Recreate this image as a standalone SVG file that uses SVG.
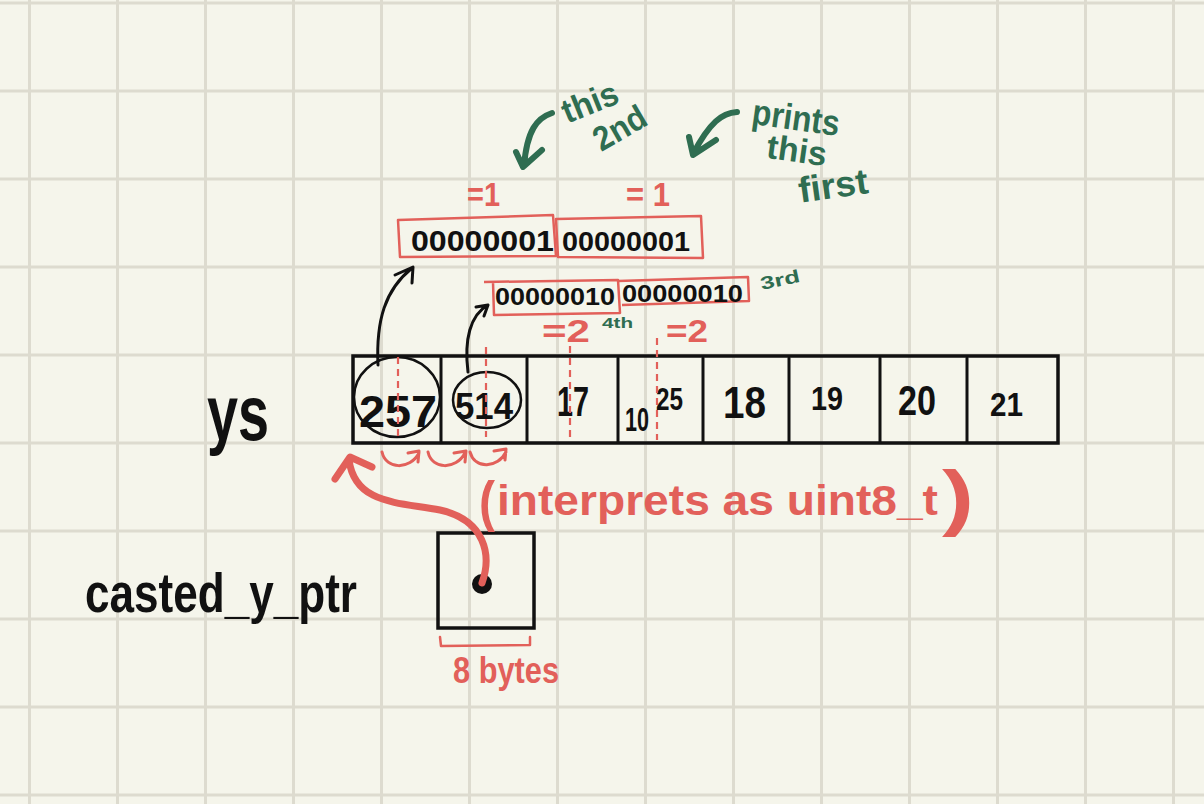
<svg xmlns="http://www.w3.org/2000/svg" width="1204" height="804" viewBox="0 0 1204 804">
<defs>
<style>
.grid{stroke:#dddbcf;stroke-width:3;fill:none}
.blk{font-family:"Liberation Sans",Arial,sans-serif;font-weight:bold;fill:#111}
.red{font-family:"Liberation Sans",Arial,sans-serif;font-weight:bold;fill:#e2605a}
.grn{font-family:"Liberation Sans",Arial,sans-serif;font-weight:bold;fill:#2f6d51}
.rbox{fill:none;stroke:#e2605a;stroke-width:2.5;stroke-linejoin:round}
.rline{fill:none;stroke:#e2605a;stroke-linecap:round;stroke-linejoin:round}
.gline{fill:none;stroke:#2f6d51;stroke-width:6;stroke-linecap:round;stroke-linejoin:round}
.bline{fill:none;stroke:#111;stroke-linecap:round;stroke-linejoin:round}
.dash{stroke:#e2605a;stroke-width:2.2;stroke-dasharray:7 5;fill:none}
</style>
</defs>
<rect width="1204" height="804" fill="#f5f5eb"/>
<path class="grid" d="M29.5 0V804M117.5 0V804M205.5 0V804M293.5 0V804M381.5 0V804M469.5 0V804M557.5 0V804M645.5 0V804M733.5 0V804M821.5 0V804M909.5 0V804M997.5 0V804M1085.5 0V804M1173.5 0V804M0 3H1204M0 91H1204M0 179H1204M0 267H1204M0 355H1204M0 443H1204M0 531H1204M0 619H1204M0 707H1204M0 795H1204"/>

<g id="ys-label"><text class="blk" x="207" y="440" font-size="78" textLength="62" lengthAdjust="spacingAndGlyphs">ys</text></g>

<g id="ys-array">
<rect x="353" y="356" width="705" height="87" fill="none" stroke="#111" stroke-width="3.5"/>
<path class="bline" stroke-width="3" d="M441 358V442M527 358V442M618 358V442M703 358V442M789 358V442M880 358V442M967 358V442"/>
<text class="blk" x="359" y="427" font-size="44" textLength="78" lengthAdjust="spacingAndGlyphs">257</text>
<text class="blk" x="455" y="419" font-size="36" textLength="58" lengthAdjust="spacingAndGlyphs">514</text>
<text class="blk" x="557" y="416" font-size="42" textLength="32" lengthAdjust="spacingAndGlyphs">17</text>
<text class="blk" x="625" y="431" font-size="34" textLength="24" lengthAdjust="spacingAndGlyphs">10</text>
<text class="blk" x="656" y="410" font-size="32" textLength="27" lengthAdjust="spacingAndGlyphs">25</text>
<text class="blk" x="723" y="418" font-size="44" textLength="43" lengthAdjust="spacingAndGlyphs">18</text>
<text class="blk" x="811" y="410" font-size="34" textLength="32" lengthAdjust="spacingAndGlyphs">19</text>
<text class="blk" x="898" y="415" font-size="42" textLength="38" lengthAdjust="spacingAndGlyphs">20</text>
<text class="blk" x="990" y="416" font-size="34" textLength="33" lengthAdjust="spacingAndGlyphs">21</text>
<ellipse cx="397" cy="397" rx="43" ry="40" fill="none" stroke="#111" stroke-width="2.5"/>
<ellipse cx="487" cy="400" rx="34" ry="28" fill="none" stroke="#111" stroke-width="2.5"/>
</g>

<g id="byte-row-1">
<path class="rbox" d="M398 220L553 215L556 256L400 257Z"/>
<path class="rbox" d="M556 219L701 216L703 258L558 257Z"/>
<text class="blk" x="411" y="251" font-size="29" textLength="143" lengthAdjust="spacingAndGlyphs">00000001</text>
<text class="blk" x="562" y="251" font-size="27" textLength="128" lengthAdjust="spacingAndGlyphs">00000001</text>
<text class="red" x="467" y="206" font-size="34" textLength="33" lengthAdjust="spacingAndGlyphs">=1</text>
<text class="red" x="626" y="206" font-size="34" textLength="44" lengthAdjust="spacingAndGlyphs">= 1</text>
</g>

<g id="byte-row-2">
<path class="rbox" d="M484 282L618 280L620 313L494 315L493 282"/>
<path class="rbox" d="M618 281L748 277L749 301L622 305"/>
<text class="blk" x="495" y="305" font-size="23" textLength="120" lengthAdjust="spacingAndGlyphs">00000010</text>
<text class="blk" x="622" y="302" font-size="23" textLength="121" lengthAdjust="spacingAndGlyphs">00000010</text>
<text class="red" x="542" y="342" font-size="32" textLength="48" lengthAdjust="spacingAndGlyphs">=2</text>
<text class="red" x="666" y="342" font-size="32" textLength="42" lengthAdjust="spacingAndGlyphs">=2</text>
<text class="grn" x="602" y="328" font-size="15" textLength="31" lengthAdjust="spacingAndGlyphs">4th</text>
<text class="grn" x="760" y="286" font-size="18" textLength="40" lengthAdjust="spacingAndGlyphs" transform="rotate(-12 780 280)">3rd</text>
</g>

<g id="note-2nd">
<text class="grn" x="560" y="114" font-size="34" textLength="58" lengthAdjust="spacingAndGlyphs" transform="rotate(-22 589 100)">this</text>
<text class="grn" x="590" y="140" font-size="34" textLength="56" lengthAdjust="spacingAndGlyphs" transform="rotate(-30 618 125)">2nd</text>
</g>

<g id="note-first">
<text class="grn" x="752" y="130" font-size="36" textLength="88" lengthAdjust="spacingAndGlyphs" transform="rotate(8 796 118)">prints</text>
<text class="grn" x="767" y="162" font-size="34" textLength="60" lengthAdjust="spacingAndGlyphs" transform="rotate(8 797 150)">this</text>
<text class="grn" x="798" y="198" font-size="36" textLength="70" lengthAdjust="spacingAndGlyphs" transform="rotate(-8 833 185)">first</text>
</g>

<g id="pointer-box">
<rect x="438" y="533" width="96" height="95" fill="none" stroke="#111" stroke-width="3.5"/>
<circle cx="482" cy="584" r="10" fill="#111"/>
<path class="rline" stroke-width="2.5" d="M440 637L441 646L530 645L530 637"/>
<text class="red" x="453" y="683" font-size="36" textLength="106" lengthAdjust="spacingAndGlyphs">8 bytes</text>
</g>

<g id="casted-label"><text class="blk" x="85" y="612" font-size="56" textLength="272" lengthAdjust="spacingAndGlyphs">casted_y_ptr</text></g>

<g id="interprets-label">
<text class="red" font-size="42"><tspan x="479" y="520" font-size="56" textLength="16" lengthAdjust="spacingAndGlyphs">(</tspan><tspan x="497" y="515" textLength="441" lengthAdjust="spacingAndGlyphs">interprets as uint8_t</tspan><tspan x="942" y="522" font-size="72" textLength="32" lengthAdjust="spacingAndGlyphs">)</tspan></text>
</g>

<g id="connectors">
<path class="dash" d="M398 357V437M486 347V437M570 346V440M657 338V440"/>
<path class="bline" stroke-width="3" d="M378 365C376 320 385 290 412 268M395 275L413 267L412 283"/>
<path class="bline" stroke-width="3" d="M468 372C464 340 470 315 488 305M476 307L488 305L484 316"/>
<path class="gline" d="M552 113C537 118 527 130 524 166M516 152L523 167L542 150"/>
<path class="gline" d="M737 112C722 113 710 122 693 154M689 137L693 155L716 140"/>
<path class="rline" stroke-width="3" d="M382 452C386 470 410 470 419 453M408 453L419 451L418 462"/>
<path class="rline" stroke-width="3" d="M428 452C432 470 456 470 465 453M454 453L466 451L465 462"/>
<path class="rline" stroke-width="3" d="M470 452C475 470 498 468 506 452M494 451L506 449L505 460"/>
<path class="rline" stroke-width="7" d="M482 583C492 555 485 520 440 510C400 502 355 505 349 460M335 479L350 457L372 467"/>
</g>
</svg>
